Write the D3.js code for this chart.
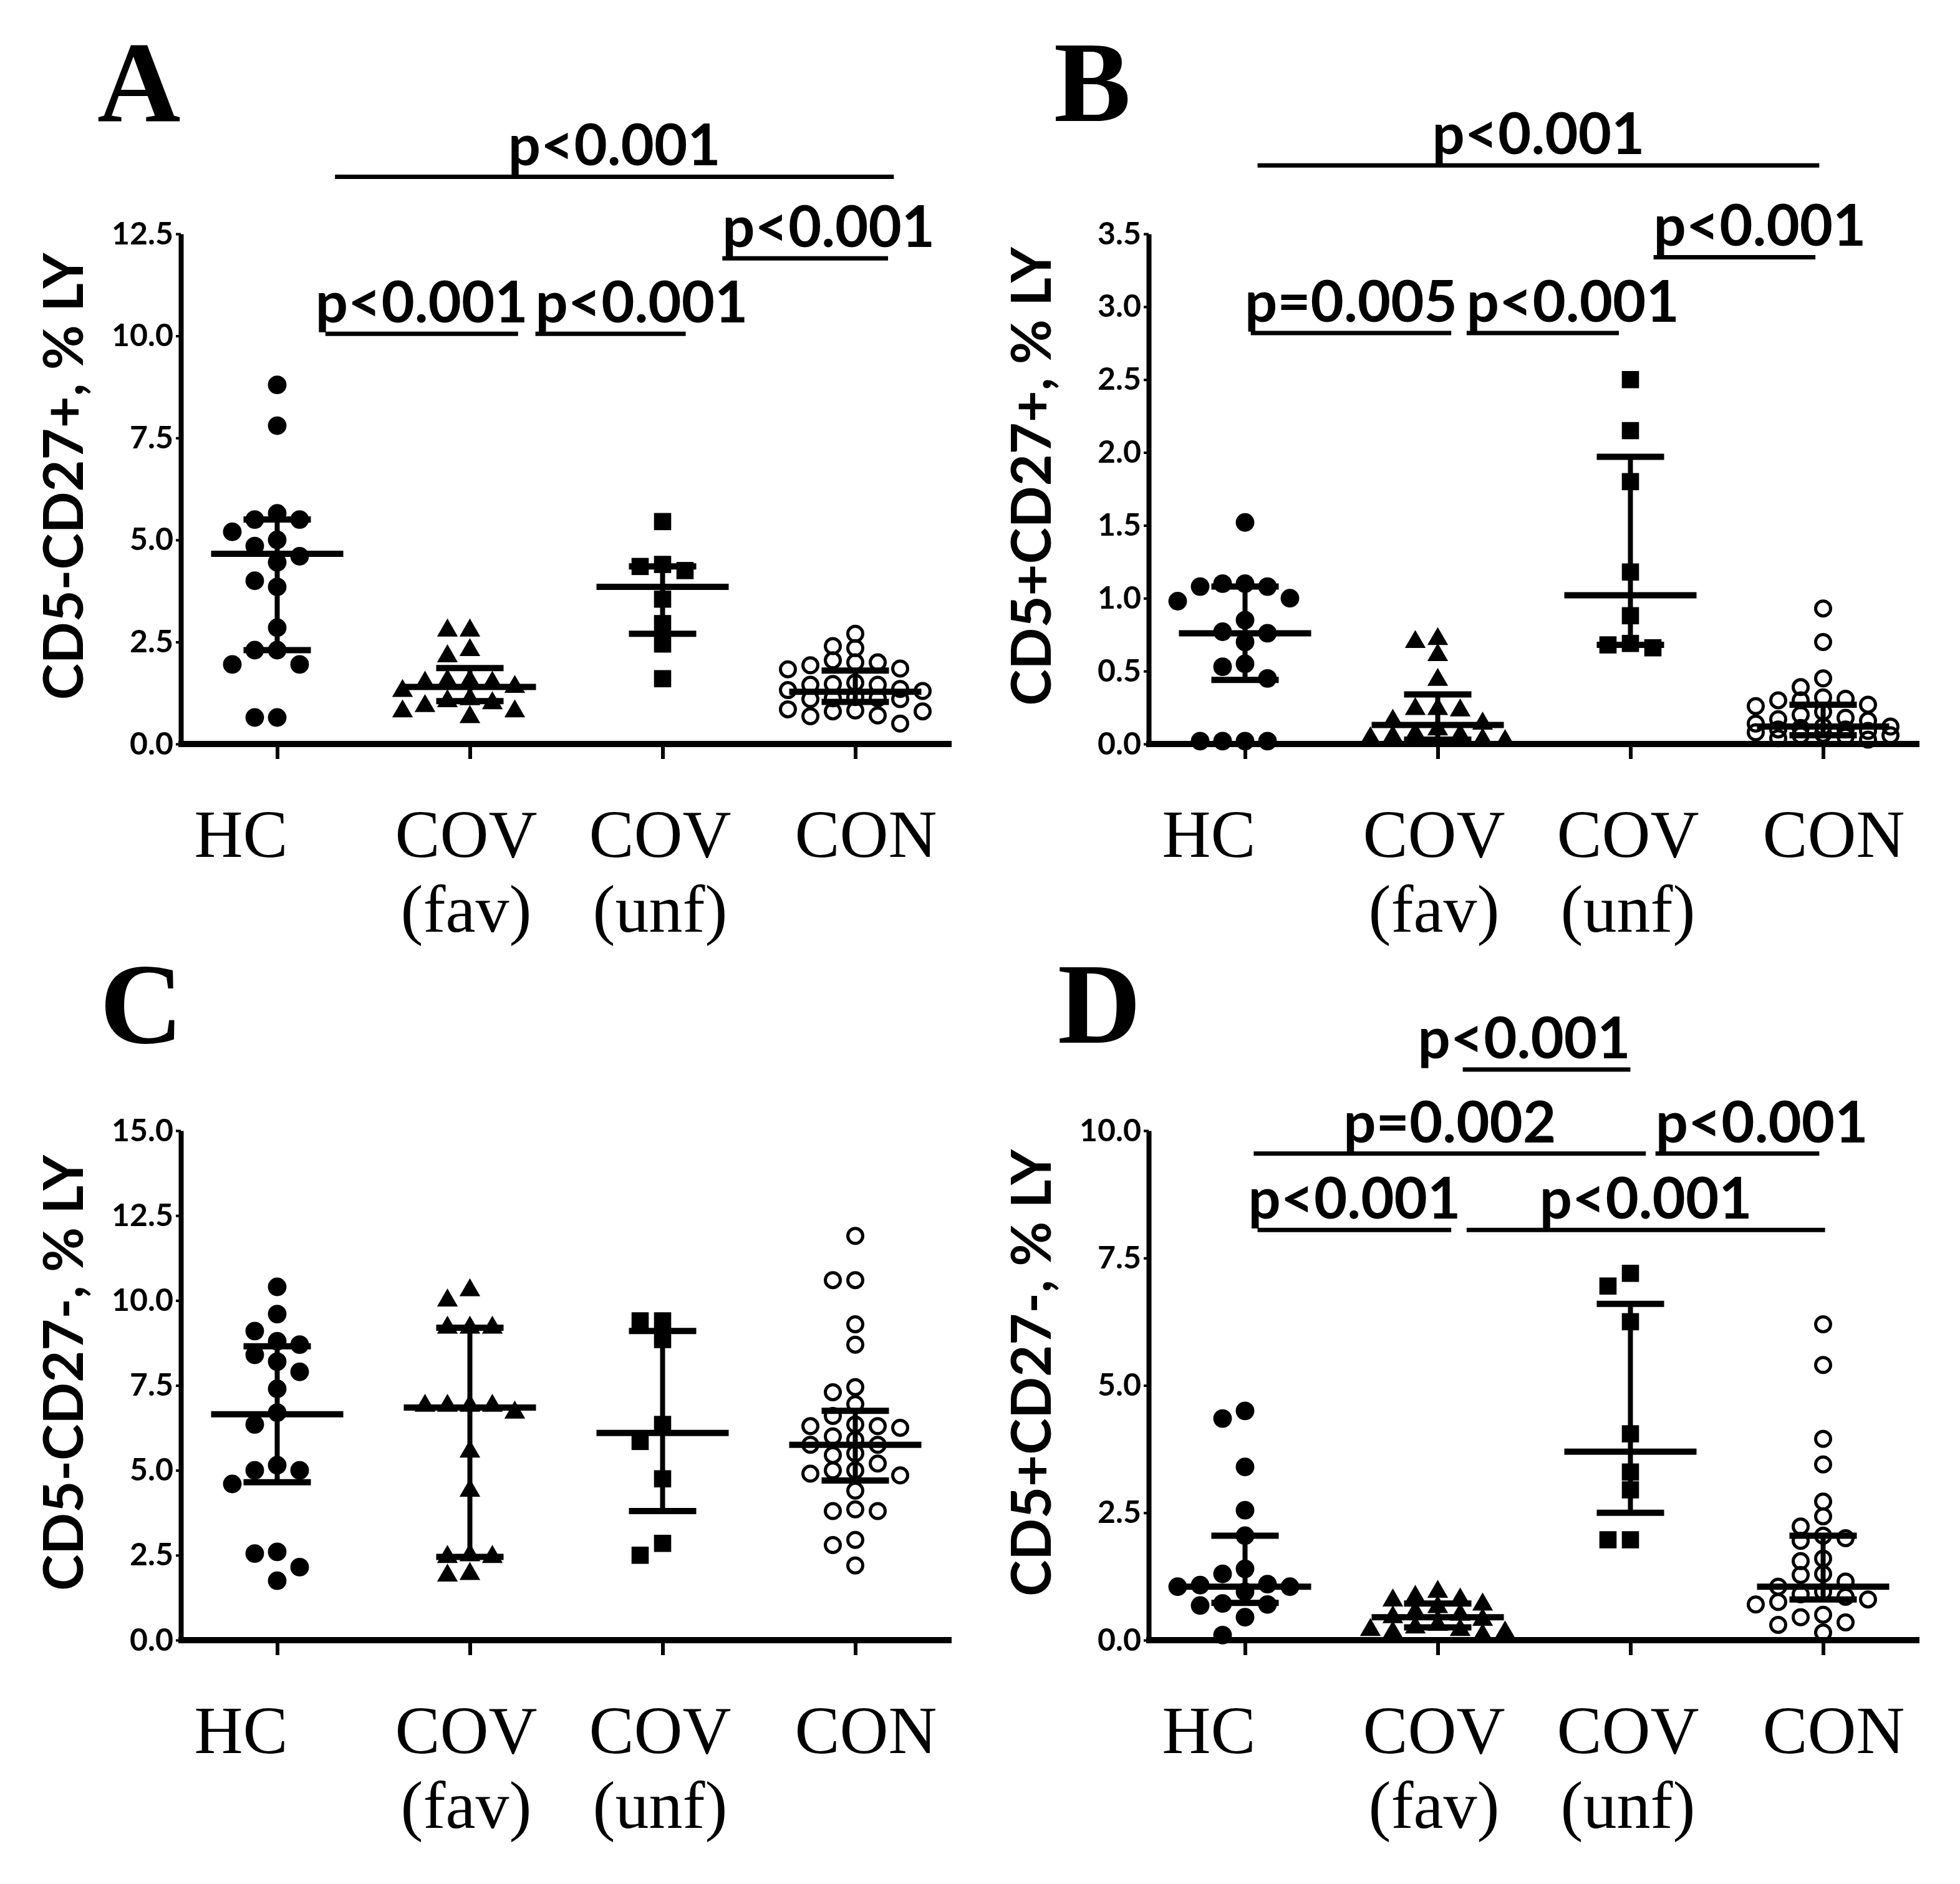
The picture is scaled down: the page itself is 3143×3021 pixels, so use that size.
<!DOCTYPE html>
<html>
<head>
<meta charset="utf-8">
<script src="https://cdn.jsdelivr.net/npm/d3@7"></script>
<style>
  body { margin: 0; background: #fff; }
  svg { display: block; }
</style>
</head>
<body>
<div id="figWrapper"></div>
<script>
// groups on the x axis (same order in every panel)
const groups = ["HC", "COV (fav)", "COV (unf)", "CON"];
const groupLines = [["HC"], ["COV", "(fav)"], ["COV", "(unf)"], ["CON"]];

// ---- panel A: CD5-CD27+, % LY
const aTicks = [0, 2.5, 5, 7.5, 10, 12.5];
const aHC = [8.8, 7.8, 5.65, 5.5, 5.5, 5.2, 5.0, 4.85, 4.6, 4.45, 4.0, 3.85, 2.85, 2.3, 2.3, 1.95, 1.95, 0.65, 0.65];
const aFav = [2.78, 2.78, 2.3, 2.15, 1.55, 1.55, 1.5, 1.5, 1.4, 1.3, 1.1, 1.05, 1.0, 0.93, 0.8, 0.8, 0.66];
const aUnf = [5.45, 4.4, 4.35, 4.25, 3.55, 2.95, 2.45, 1.6];
const aCon = [2.7, 2.4, 2.35, 2.05, 2.0, 2.0, 1.93, 1.85, 1.83, 1.5, 1.47, 1.45, 1.45, 1.35, 1.32, 1.3, 1.15, 1.12, 1.12, 1.1, 1.1, 0.85, 0.82, 0.8, 0.8, 0.7, 0.68, 0.5];
const aMedian = [4.66, 1.4, 3.85, 1.28];
const aQ1 = [2.3, 1.05, 2.7, 1.03];
const aQ3 = [5.5, 1.86, 4.35, 1.8];
// [label, from group, to group, height in axis units, text anchor]
const aPvals = [
  ["p<0.001", 0.30, 3.20, 13.9, "middle"],
  ["p<0.001", 2.31, 3.17, 11.9, "start"],
  ["p<0.001", 0.25, 1.25, 10.05, "middle"],
  ["p<0.001", 1.34, 2.12, 10.05, "start"]
];

// ---- panel B: CD5+CD27+, % LY
const bTicks = [0, 0.5, 1, 1.5, 2, 2.5, 3, 3.5];
const bHC = [1.52, 1.1, 1.1, 1.08, 1.08, 1.0, 0.98, 0.85, 0.77, 0.76, 0.7, 0.55, 0.53, 0.45, 0.02, 0.02, 0.02, 0.02];
const bFav = [0.72, 0.70, 0.61, 0.44, 0.24, 0.24, 0.23, 0.16, 0.14, 0.1, 0.07, 0.06, 0.05, 0.04, 0.03, 0.02];
const bUnf = [2.5, 2.15, 1.8, 1.18, 0.88, 0.69, 0.68, 0.66];
const bCon = [0.93, 0.70, 0.45, 0.39, 0.32, 0.31, 0.30, 0.30, 0.27, 0.26, 0.22, 0.20, 0.18, 0.17, 0.16, 0.14, 0.12, 0.12, 0.11, 0.10, 0.10, 0.09, 0.08, 0.07, 0.06, 0.06, 0.05, 0.04, 0.03];
const bMedian = [0.76, 0.13, 1.02, 0.12];
const bQ1 = [0.44, 0.03, 0.68, 0.06];
const bQ3 = [1.08, 0.34, 1.97, 0.27];
const bPvals = [
  ["p<0.001", 0.065, 2.98, 3.97, "middle"],
  ["p<0.001", 2.12, 2.96, 3.34, "start"],
  ["p=0.005", 0.03, 1.07, 2.82, "middle"],
  ["p<0.001", 1.15, 1.94, 2.82, "start"]
];

// ---- panel C: CD5-CD27-, % LY
const cTicks = [0, 2.5, 5, 7.5, 10, 12.5, 15];
const cHC = [10.4, 9.6, 9.1, 8.8, 8.7, 8.4, 8.2, 7.9, 7.4, 6.7, 6.35, 5.15, 5.0, 5.0, 4.6, 2.6, 2.55, 2.15, 1.75];
const cFav = [10.3, 10.0, 9.2, 9.2, 9.2, 6.9, 6.9, 6.9, 6.9, 6.7, 5.55, 4.4, 2.5, 2.45, 2.45, 1.95, 1.9];
const cUnf = [9.4, 9.4, 8.85, 6.35, 5.85, 4.75, 2.85, 2.5];
const cCon = [11.9, 10.6, 10.6, 9.3, 8.7, 7.45, 7.3, 6.95, 6.6, 6.35, 6.3, 6.3, 6.25, 6.0, 5.9, 5.75, 5.75, 5.5, 5.45, 5.2, 5.0, 5.0, 4.9, 4.85, 4.4, 3.85, 3.8, 3.8, 2.95, 2.8, 2.2];
const cMedian = [6.65, 6.85, 6.1, 5.75];
const cQ1 = [4.65, 2.45, 3.8, 4.7];
const cQ3 = [8.65, 9.2, 9.1, 6.75];
const cPvals = [];

// ---- panel D: CD5+CD27-, % LY
const dTicks = [0, 2.5, 5, 7.5, 10];
const dHC = [4.5, 4.35, 3.4, 2.55, 2.05, 1.4, 1.3, 1.1, 1.08, 1.05, 1.05, 0.95, 0.72, 0.7, 0.68, 0.45, 0.1];
const dFav = [0.95, 0.85, 0.8, 0.78, 0.7, 0.65, 0.55, 0.5, 0.45, 0.4, 0.3, 0.25, 0.2, 0.2, 0.15, 0.15, 0.1];
const dUnf = [7.2, 6.95, 6.25, 4.05, 3.3, 2.95, 1.97, 1.97];
const dCon = [6.2, 5.4, 3.95, 3.45, 2.72, 2.43, 2.23, 2.05, 2.0, 1.95, 1.6, 1.55, 1.3, 1.28, 1.15, 1.05, 0.95, 0.9, 0.85, 0.8, 0.75, 0.7, 0.5, 0.45, 0.35, 0.3, 0.15];
const dMedian = [1.05, 0.45, 3.7, 1.05];
const dQ1 = [0.73, 0.25, 2.5, 0.8];
const dQ3 = [2.05, 0.72, 6.6, 2.05];
const dPvals = [
  ["p<0.001", 1.13, 2.0, 11.2, "end"],
  ["p=0.002", 0.045, 2.08, 9.55, "middle"],
  ["p<0.001", 2.13, 2.98, 9.55, "start"],
  ["p<0.001", 0.065, 1.07, 8.05, "middle"],
  ["p<0.001", 1.15, 3.01, 8.05, "middle"]
];

const panels = [
  { letter: "A", title: "CD5-CD27+, % LY", ticks: aTicks, series: [aHC, aFav, aUnf, aCon], median: aMedian, q1: aQ1, q3: aQ3, pvals: aPvals, left: 290, top: 375, bottom: 1193, letterX: 156, letterY: 194 },
  { letter: "B", title: "CD5+CD27+, % LY", ticks: bTicks, series: [bHC, bFav, bUnf, bCon], median: bMedian, q1: bQ1, q3: bQ3, pvals: bPvals, left: 1842, top: 375, bottom: 1193, letterX: 1690, letterY: 194 },
  { letter: "C", title: "CD5-CD27-, % LY", ticks: cTicks, series: [cHC, cFav, cUnf, cCon], median: cMedian, q1: cQ1, q3: cQ3, pvals: cPvals, left: 290, top: 1813, bottom: 2630, letterX: 160, letterY: 1672 },
  { letter: "D", title: "CD5+CD27-, % LY", ticks: dTicks, series: [dHC, dFav, dUnf, dCon], median: dMedian, q1: dQ1, q3: dQ3, pvals: dPvals, left: 1842, top: 1813, bottom: 2630, letterX: 1696, letterY: 1672 }
];

const plotW = 1236;
const labelDx = [-58, -6, -4, 17];
const sansFont = "Lato, 'Open Sans', sans-serif";
const serifFont = "'Liberation Serif', 'Times New Roman', serif";

const markerSym = [
  d3.symbol().type(d3.symbolCircle).size(700),
  d3.symbol().type(d3.symbolTriangle).size(480),
  d3.symbol().type(d3.symbolSquare).size(760),
  null // open circle, drawn as <circle>
];
// how close two markers of a group may sit before the next slot is used
const markerGap = [30, 24, 28, 21];

const svg = d3.select('#figWrapper').append('svg')
  .attr('width', 3143)
  .attr('height', 3021)
  .style('background', '#fff');

// Prism-like column scatter: each point takes the nearest free slot around the centre
function spreadPoints(vals, y, step, minDist){
  const placed = [];
  const slots = [0, -1, 1, -2, 2, -3, 3];
  return vals.map(v => {
    const py = y(v);
    let pick = null, fallback = 0, fallbackGap = -1;
    for (const s of slots) {
      const px = s * step;
      const gap = placed.length ? d3.min(placed, q => Math.hypot(q[0] - px, q[1] - py)) : Infinity;
      if (gap >= minDist) { pick = px; break; }
      if (gap > fallbackGap) { fallbackGap = gap; fallback = px; }
    }
    if (pick === null) pick = fallback;
    placed.push([pick, py]);
    return [pick, py];
  });
}

function drawPanel(p){
  const g = svg.append('g').attr('transform', `translate(${p.left},0)`);
  const yMax = p.ticks[p.ticks.length - 1];
  const x = d3.scaleLinear().domain([-0.5, 3.5]).range([0, plotW]);
  const y = d3.scaleLinear().domain([0, yMax]).range([p.bottom, p.top]);

  // points
  p.series.forEach((vals, gi) => {
    const pos = spreadPoints(vals, y, 36, markerGap[gi]);
    const cg = g.append('g').attr('class', 'pts' + gi);
    if (markerSym[gi]) {
      cg.selectAll('path').data(pos).enter().append('path')
        .attr('d', markerSym[gi])
        .attr('transform', d => `translate(${x(gi) + d[0]},${d[1]})`)
        .attr('fill', '#000');
    } else {
      cg.selectAll('circle').data(pos).enter().append('circle')
        .attr('cx', d => x(gi) + d[0])
        .attr('cy', d => d[1])
        .attr('r', 12)
        .attr('fill', 'none')
        .attr('stroke', '#000')
        .attr('stroke-width', 5);
    }
  });

  // median with interquartile range
  const bars = g.append('g').attr('stroke', '#000');
  groups.forEach((grp, gi) => {
    const cx = x(gi);
    bars.append('line').attr('x1', cx).attr('x2', cx)
      .attr('y1', y(p.q1[gi])).attr('y2', y(p.q3[gi])).attr('stroke-width', 8);
    [p.q1[gi], p.q3[gi]].forEach(q => {
      bars.append('line').attr('x1', cx - 54).attr('x2', cx + 54)
        .attr('y1', y(q)).attr('y2', y(q)).attr('stroke-width', 10);
    });
    bars.append('line').attr('x1', cx - 106).attr('x2', cx + 106)
      .attr('y1', y(p.median[gi])).attr('y2', y(p.median[gi])).attr('stroke-width', 10);
  });

  // y axis
  const yAxis = g.append('g').call(d3.axisLeft(y).tickValues(p.ticks)
    .tickFormat(d3.format('.1f')).tickSize(8).tickSizeOuter(0));
  yAxis.select('.domain').attr('stroke-width', 8);
  yAxis.selectAll('.tick line').attr('stroke-width', 4);
  yAxis.selectAll('.tick text')
    .attr('x', -12)
    .attr('font-family', sansFont)
    .attr('font-weight', 700)
    .attr('font-size', 50)
    .attr('fill', '#000');

  // x axis
  const xAxis = g.append('g').attr('transform', `translate(0,${p.bottom})`)
    .call(d3.axisBottom(x).tickValues([0, 1, 2, 3]).tickFormat('').tickSize(24).tickSizeOuter(0));
  xAxis.select('.domain').attr('stroke-width', 10).attr('d', `M-4,0H${plotW}`);
  xAxis.selectAll('.tick line').attr('stroke-width', 6);

  // group labels, one text per line
  groupLines.forEach((lines, gi) => {
    lines.forEach((ln, li) => {
      g.append('text')
        .attr('x', x(gi) + labelDx[gi])
        .attr('y', p.bottom + 181 + li * 120)
        .attr('text-anchor', 'middle')
        .attr('font-family', serifFont)
        .attr('font-size', 108)
        .attr('fill', '#000')
        .text(ln);
    });
  });

  // y title
  g.append('text')
    .attr('transform', `translate(-157,${(p.top + p.bottom) / 2 - 20}) rotate(-90)`)
    .attr('text-anchor', 'middle')
    .attr('font-family', sansFont)
    .attr('font-weight', 700)
    .attr('font-size', 88)
    .attr('fill', '#000')
    .text(p.title);

  // significance lines
  p.pvals.forEach(([label, from, to, level, anchor]) => {
    const x1 = x(from), x2 = x(to), ly = y(level);
    g.append('line').attr('x1', x1).attr('x2', x2).attr('y1', ly).attr('y2', ly)
      .attr('stroke', '#000').attr('stroke-width', 7);
    const tx = anchor === 'start' ? x1 : anchor === 'end' ? x2 : (x1 + x2) / 2;
    g.append('text')
      .attr('x', tx)
      .attr('y', ly - 18)
      .attr('text-anchor', anchor)
      .attr('font-family', sansFont)
      .attr('font-weight', 700)
      .attr('font-size', 92)
      .attr('fill', '#000')
      .text(label);
  });

  // panel letter
  svg.append('text')
    .attr('x', p.letterX)
    .attr('y', p.letterY)
    .attr('font-family', serifFont)
    .attr('font-weight', 700)
    .attr('font-size', 185)
    .attr('fill', '#000')
    .text(p.letter);
}

panels.forEach(drawPanel);
</script>
</body>
</html>
